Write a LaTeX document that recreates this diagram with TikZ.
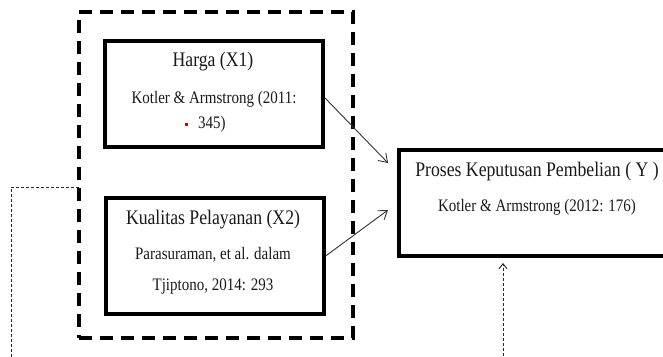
\documentclass[tikz,border=0pt]{standalone}
\usepackage{fontspec}
\setmainfont{Liberation Serif}
\usetikzlibrary{arrows.meta}
\newcommand{\tallText}[1]{\scalebox{1}[1.17]{#1}}
\tikzset{
  solidbox/.style={draw=black, line width=3.2pt, minimum width=#1, inner sep=0pt},
  bigtext/.style={font=\fontsize{17.7}{20}\selectfont, inner sep=0pt, anchor=center, text=black!90},
  smalltext/.style={font=\fontsize{15}{17}\selectfont, inner sep=0pt, anchor=center, text=black!90},
  thickdash/.style={draw=black, line width=3.5pt, dash pattern=on 13pt off 8pt},
  thinarrow/.style={draw=black!80, line width=0.9pt, -{Straight Barb[length=8pt,width=11pt]}},
  dotline/.style={draw=black!85, line width=0.9pt, dash pattern=on 3pt off 2pt},
}
\begin{document}
\begin{tikzpicture}[x=1pt,y=-1pt]
\useasboundingbox (0,0) rectangle (663,356);
% outer dashed group
\node[thickdash, minimum width=274pt, minimum height=326pt, inner sep=0pt] (group) at (216,175) {};
% Harga box
\node[solidbox=218pt, minimum height=106pt] (harga) at (214,94) {};
\node[bigtext] (hargat) at (213,62) {\tallText{Harga (X1)}};
\node[smalltext] (hargas1) at (214,99) {\tallText{Kotler \& Armstrong (2011:}};
\node[smalltext, anchor=west] (hargas2) at (198,124) {\tallText{345)}};
\node[fill=red!85!black, minimum size=3pt, inner sep=0pt] (bullet) at (186,124) {};
% Kualitas box
\node[solidbox=218pt, minimum height=116pt] (kual) at (215,256) {};
\node[bigtext] (kualt) at (213,220) {\tallText{Kualitas Pelayanan (X2)}};
\node[smalltext] (kuals1) at (213,255) {\tallText{Parasuraman, et al. dalam}};
\node[smalltext] (kuals2) at (213,287) {\tallText{Tjiptono, 2014: 293}};
% Y box
\node[solidbox=272pt, minimum height=106pt] (ybox) at (535,203) {};
\node[bigtext] (yt) at (537,172) {\tallText{Proses Keputusan Pembelian ( Y )}};
\node[smalltext] (ys) at (537,207) {\tallText{Kotler \& Armstrong (2012: 176)}};
% arrows
\coordinate (t1) at (388,163);
\coordinate (t2) at (388,210);
\coordinate (s1) at (325,98);
\draw[thinarrow] (s1) -- (t1);
\draw[thinarrow] (kual.east) -- (t2);
% dotted loop
\coordinate (d0) at (79,187);
\coordinate (d1) at (11,187);
\coordinate (d2) at (11,359);
\coordinate (d3) at (503,359);
\coordinate (d4) at (503,263);
\draw[dotline, -{Straight Barb[length=5pt,width=8pt]}] (d0) -- (d1) -- (d2) -- (d3) -- (d4);
\end{tikzpicture}
\end{document}
